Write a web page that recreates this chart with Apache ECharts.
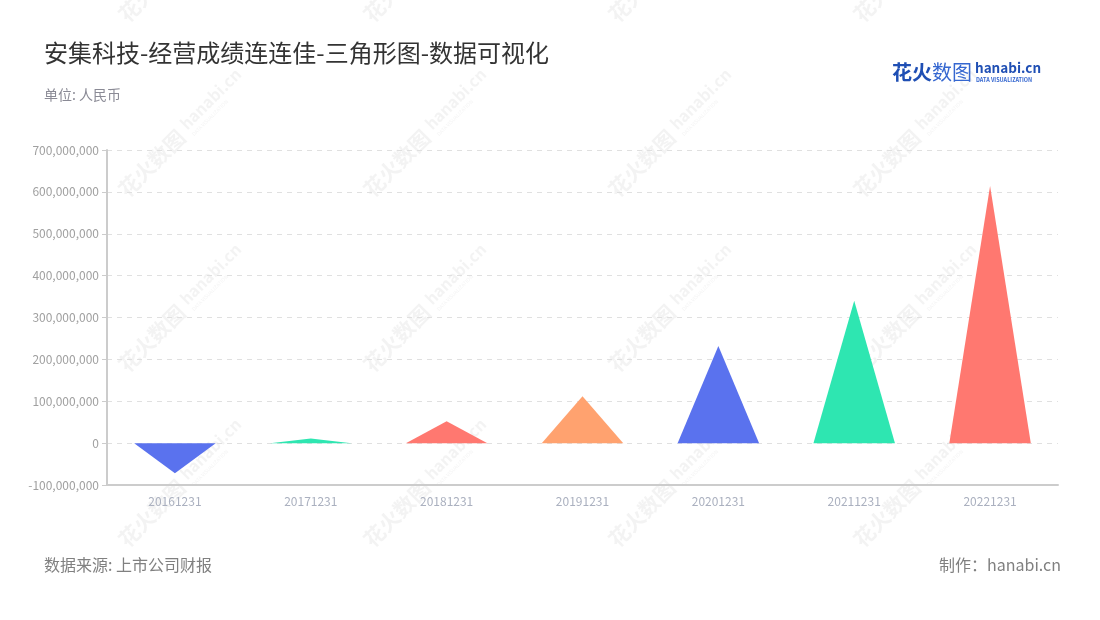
<!DOCTYPE html>
<html>
<head>
<meta charset="utf-8">
<script src="https://cdn.jsdelivr.net/npm/echarts@6/dist/echarts.min.js"></script>
<style>html,body{margin:0;padding:0;background:#fff;}#chart{width:1100px;height:620px;}</style>
</head>
<body>
<div id="chart"></div>
<script>
var categories = ['20161231','20171231','20181231','20191231','20201231','20211231','20221231'];
var values = [-72000000, 11000000, 52000000, 112000000, 232000000, 340000000, 614000000];
var colors = ['#5A72EE','#2EE6B1','#FF7870','#FFA26F','#5A72EE','#2EE6B1','#FF7870'];
var yTicks = {min: -100000000, max: 700000000, interval: 100000000};
var titleText = '安集科技-经营成绩连连佳-三角形图-数据可视化';
var subText = '单位: 人民币';
var sourceText = '数据来源: 上市公司财报';
var makerText = '制作：hanabi.cn';

var FONT = '"Noto Sans CJK SC", "Noto Sans", sans-serif';
var chart = echarts.init(document.getElementById('chart'));

var wm = [];
var cols = [180, 425, 670, 915];
var rows = [-40, 135, 310, 485];
var WM = 'rgba(150,150,150,0.11)';
cols.forEach(function (cx) {
  rows.forEach(function (cy) {
    wm.push({
      type: 'group', x: cx, y: cy, rotation: Math.PI / 4, silent: true, z: 0,
      children: [
        {type: 'text', x: -82, y: 0, style: {text: '花火数图', fontSize: 21, fontWeight: 'bold', fontFamily: FONT, fill: WM, verticalAlign: 'middle'}},
        {type: 'text', x: 8, y: -4, style: {text: 'hanabi.cn', fontSize: 16, fontWeight: 'bold', fontFamily: FONT, fill: WM, verticalAlign: 'middle'}},
        {type: 'text', x: 9, y: 9, style: {text: 'DATA VISUALIZATION', fontSize: 5, fontFamily: FONT, fill: WM, verticalAlign: 'middle'}}
      ]
    });
  });
});

var graphics = wm.concat([
  {type: 'text', left: 44, top: 41, style: {text: titleText, fontSize: 24, fontFamily: FONT, fill: '#333'}},
  {type: 'text', left: 44, top: 88, style: {text: subText, fontSize: 14, fontFamily: FONT, fill: '#8a8a95'}},
  {type: 'text', left: 44, top: 557, style: {text: sourceText, fontSize: 16, fontFamily: FONT, fill: '#808080'}},
  {type: 'text', right: 39, top: 557, style: {text: makerText, fontSize: 16, fontFamily: FONT, fill: '#808080'}},
  {type: 'text', x: 892, y: 72, style: {text: '花火', fontSize: 20, fontWeight: 'bold', fontFamily: FONT, fill: '#1f4fb4', verticalAlign: 'middle'}},
  {type: 'text', x: 932, y: 72, style: {text: '数图', fontSize: 20, fontFamily: FONT, fill: '#3567d0', verticalAlign: 'middle'}},
  {type: 'text', x: 975, y: 68, style: {text: 'hanabi.cn', fontSize: 13.5, fontWeight: 'bold', fontFamily: FONT, fill: '#1f4fb4', verticalAlign: 'middle'}},
  {type: 'text', x: 976, y: 80, style: {text: 'DATA VISUALIZATION', fontSize: 5.5, fontWeight: 'bold', fontFamily: FONT, fill: '#3567d0', verticalAlign: 'middle'}}
]);

chart.setOption({
  backgroundColor: '#fff',
  textStyle: {fontFamily: FONT},
  graphic: graphics,
  grid: {left: 107, right: 42, top: 150, bottom: 135},
  xAxis: {
    type: 'category',
    data: categories,
    axisLine: {onZero: false, lineStyle: {color: '#ccc', width: 2}},
    axisTick: {alignWithLabel: true, lineStyle: {color: '#ccc'}},
    axisLabel: {color: '#aab0bf', fontSize: 12, margin: 10}
  },
  yAxis: {
    type: 'value',
    min: yTicks.min, max: yTicks.max, interval: yTicks.interval,
    axisLine: {show: true, lineStyle: {color: '#ccc', width: 2}},
    axisTick: {show: true, lineStyle: {color: '#ccc'}},
    axisLabel: {color: '#a0a0a0', fontSize: 12, formatter: function (v) { return v.toLocaleString('en-US'); }},
    splitLine: {lineStyle: {color: '#e0e0e0', type: [5, 5]}}
  },
  series: [{
    type: 'pictorialBar',
    symbol: 'triangle',
    barCategoryGap: '40%',
    z: 3,
    data: values.map(function (v, i) { return {value: v, itemStyle: {color: colors[i], opacity: 1}}; })
  }]
});
</script>
</body>
</html>
